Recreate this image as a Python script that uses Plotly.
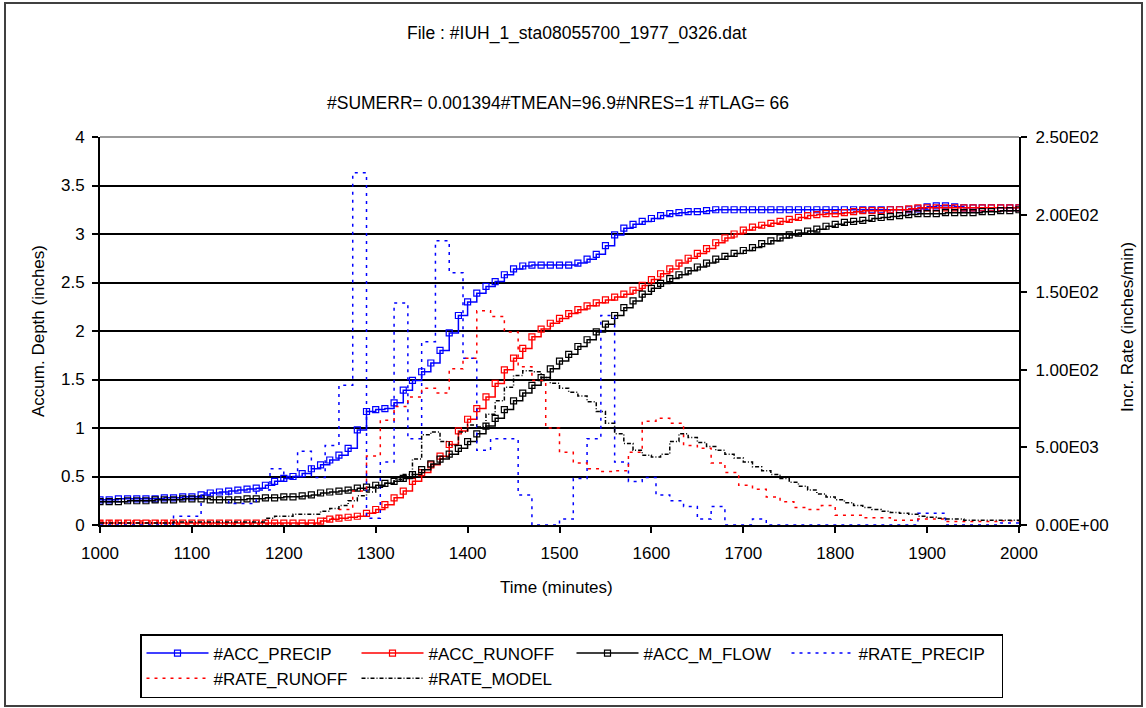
import plotly.graph_objects as go
from plotly.subplots import make_subplots

# ---------------- data ----------------
TIME = list(range(1000, 2001, 10))  # sample times (minutes)

ACC_PRECIP = [
    0.26, 0.26, 0.27, 0.27, 0.27, 0.27, 0.27, 0.28, 0.28, 0.29,
    0.29, 0.31, 0.33, 0.34, 0.35, 0.36, 0.37, 0.38, 0.41, 0.45,
    0.48, 0.50, 0.53, 0.58, 0.62, 0.67, 0.72, 0.79, 0.98, 1.17,
    1.19, 1.20, 1.26, 1.39, 1.49, 1.58, 1.67, 1.80, 1.98, 2.16,
    2.30, 2.39, 2.46, 2.51, 2.58, 2.64, 2.67, 2.68, 2.68, 2.68,
    2.68, 2.68, 2.70, 2.74, 2.79, 2.88, 2.99, 3.06, 3.10, 3.13,
    3.16, 3.19, 3.21, 3.22, 3.23, 3.23, 3.24, 3.25, 3.25, 3.25,
    3.25, 3.25, 3.25, 3.25, 3.25, 3.25, 3.25, 3.25, 3.25, 3.25,
    3.25, 3.25, 3.25, 3.25, 3.25, 3.25, 3.25, 3.25, 3.25, 3.26,
    3.28, 3.29, 3.29, 3.28, 3.27, 3.27, 3.27, 3.27, 3.27, 3.27,
    3.27,
]

ACC_RUNOFF = [
    0.02, 0.02, 0.02, 0.02, 0.02, 0.02, 0.02, 0.02, 0.02, 0.02,
    0.02, 0.02, 0.02, 0.02, 0.02, 0.02, 0.02, 0.02, 0.02, 0.02,
    0.02, 0.02, 0.02, 0.02, 0.04, 0.06, 0.07, 0.08, 0.09, 0.12,
    0.16, 0.21, 0.28, 0.35, 0.45, 0.54, 0.62, 0.71, 0.83, 0.97,
    1.09, 1.20, 1.32, 1.46, 1.60, 1.72, 1.82, 1.94, 2.02, 2.08,
    2.13, 2.18, 2.22, 2.26, 2.29, 2.32, 2.35, 2.38, 2.42, 2.47,
    2.53, 2.59, 2.64, 2.70, 2.75, 2.80, 2.85, 2.91, 2.96, 3.00,
    3.04, 3.07, 3.09, 3.11, 3.13, 3.15, 3.17, 3.19, 3.20, 3.21,
    3.21, 3.22, 3.23, 3.24, 3.24, 3.24, 3.25, 3.25, 3.26, 3.27,
    3.27, 3.27, 3.27, 3.27, 3.27, 3.27, 3.27, 3.27, 3.27, 3.27,
    3.27,
]

ACC_M_FLOW = [
    0.24, 0.24, 0.24, 0.25, 0.25, 0.25, 0.26, 0.26, 0.26, 0.27,
    0.27, 0.27, 0.26, 0.26, 0.26, 0.26, 0.27, 0.27, 0.28, 0.28,
    0.29, 0.29, 0.30, 0.31, 0.33, 0.34, 0.35, 0.36, 0.38, 0.39,
    0.41, 0.43, 0.45, 0.48, 0.52, 0.57, 0.63, 0.68, 0.73, 0.79,
    0.86, 0.94, 1.02, 1.10, 1.19, 1.28, 1.36, 1.44, 1.52, 1.61,
    1.69, 1.76, 1.84, 1.91, 1.99, 2.07, 2.16, 2.24, 2.31, 2.38,
    2.44, 2.49, 2.54, 2.58, 2.62, 2.66, 2.70, 2.74, 2.77, 2.80,
    2.83, 2.86, 2.90, 2.93, 2.96, 2.99, 3.01, 3.03, 3.05, 3.08,
    3.10, 3.12, 3.13, 3.14, 3.16, 3.17, 3.18, 3.19, 3.20, 3.21,
    3.21, 3.21, 3.22, 3.22, 3.22, 3.22, 3.23, 3.23, 3.24, 3.24,
    3.25,
]

RATE_MODEL = [
    0.00013, 0.00013, 0.00013, 0.00013, 0.00013, 0.00013, 0.00013, 0.00013, 0.00019, 0.00019,
    0.00019, 0.00019, 0.00019, 0.00019, 0.00019, 0.00019, 0.00019, 0.00019, 0.00044, 0.00056,
    0.00056, 0.00069, 0.00069, 0.00069, 0.00088, 0.00106, 0.00125, 0.00156, 0.00188, 0.00213,
    0.00244, 0.00269, 0.00294, 0.00325, 0.00425, 0.00581, 0.00600, 0.00538, 0.00513, 0.00600,
    0.00644, 0.00631, 0.00713, 0.00800, 0.00888, 0.00963, 0.00994, 0.00988, 0.00950, 0.00913,
    0.00881, 0.00856, 0.00831, 0.00794, 0.00731, 0.00656, 0.00588, 0.00525, 0.00481, 0.00450,
    0.00438, 0.00456, 0.00538, 0.00588, 0.00563, 0.00531, 0.00506, 0.00481, 0.00456, 0.00431,
    0.00406, 0.00375, 0.00350, 0.00325, 0.00300, 0.00275, 0.00250, 0.00225, 0.00200, 0.00181,
    0.00163, 0.00144, 0.00125, 0.00113, 0.00100, 0.00088, 0.00081, 0.00075, 0.00069, 0.00056,
    0.00050, 0.00044, 0.00038, 0.00038, 0.00031, 0.00031, 0.00031, 0.00031, 0.00031, 0.00031,
    0.00031,
]

PRECIP_T = [1000, 1080, 1110, 1140, 1170, 1185, 1200, 1215, 1230, 1245,
            1260, 1275, 1290, 1305, 1320, 1335, 1350, 1365, 1380, 1395,
            1410, 1425, 1455, 1470, 1500, 1515, 1530, 1545, 1560, 1575,
            1590, 1605, 1620, 1635, 1650, 1665, 1680, 1710, 1725, 1890,
            1920, 1980, 2000]
RATE_PRECIP = [0, 0.00056, 0.00206, 0.00138, 0.00225, 0.00363, 0.00313, 0.00475, 0.00306, 0.00513,
               0.00900, 0.02269, 0.00044, 0.00406, 0.01431, 0.00556, 0.01181, 0.01831, 0.01625, 0.01075,
               0.00481, 0.00556, 0.00194, 0, 0.00038, 0.00300, 0.00556, 0.01350, 0.00406, 0.00281,
               0.00306, 0.00194, 0.00156, 0.00119, 0.00038, 0.00119, 0, 0.00038, 0, 0.00075,
               0, 0.00013, 0.00013]

RUNOFF_T = [1000, 1080, 1240, 1260, 1275, 1290, 1305, 1320, 1335, 1350,
            1365, 1380, 1395, 1410, 1425, 1440, 1455, 1470, 1485, 1500,
            1515, 1530, 1545, 1560, 1575, 1590, 1605, 1620, 1635, 1650,
            1665, 1680, 1695, 1710, 1725, 1740, 1755, 1770, 1785, 1800,
            1830, 1860, 1890, 1920, 1980, 2000]
RATE_RUNOFF = [0.00025, 0.00006, 0.00044, 0.00100, 0.00219, 0.00444, 0.00675, 0.00763, 0.00825, 0.00881,
               0.00850, 0.01006, 0.01075, 0.01381, 0.01344, 0.01244, 0.01019, 0.00931, 0.00625, 0.00469,
               0.00400, 0.00363, 0.00344, 0.00350, 0.00469, 0.00669, 0.00688, 0.00656, 0.00513, 0.00494,
               0.00400, 0.00338, 0.00256, 0.00231, 0.00181, 0.00150, 0.00113, 0.00100, 0.00125, 0.00063,
               0.00047, 0.00031, 0.00038, 0.00022, 0.00028, 0.00028]

LEFT_TICKS = [0, 0.5, 1, 1.5, 2, 2.5, 3, 3.5, 4]
LEFT_TICK_TEXT = ["0", "0.5", "1", "1.5", "2", "2.5", "3", "3.5", "4"]
RIGHT_TICKS = [0, 0.005, 0.01, 0.015, 0.02, 0.025]
RIGHT_TICK_TEXT = ["0.00E+00", "5.00E03", "1.00E02", "1.50E02", "2.00E02", "2.50E02"]
X_TICKS = [1000, 1100, 1200, 1300, 1400, 1500, 1600, 1700, 1800, 1900, 2000]

TITLE_1 = "File : #IUH_1_sta08055700_1977_0326.dat"
TITLE_2 = "#SUMERR= 0.001394#TMEAN=96.9#NRES=1 #TLAG= 66"

# ---------------- figure ----------------
FONT = "Liberation Sans, Arial, sans-serif"
W, H = 1146, 708
ML, MR, MT, MB = 100, 127, 137, 183
PW, PH = W - ML - MR, H - MT - MB


def px_x(p):
    return (p - ML) / PW


def px_y(p):
    return (H - MB - p) / PH


fig = make_subplots(specs=[[{"secondary_y": True}]])

acc_marker = dict(symbol="square-open", size=6, line=dict(width=1.2))
fig.add_trace(go.Scatter(x=TIME, y=ACC_PRECIP, name="#ACC_PRECIP", mode="lines+markers",
                         line=dict(color="#0000FF", width=1.5, shape="hv"), marker=acc_marker),
              secondary_y=False)
fig.add_trace(go.Scatter(x=TIME, y=ACC_RUNOFF, name="#ACC_RUNOFF", mode="lines+markers",
                         line=dict(color="#FF0000", width=1.5, shape="hv"), marker=acc_marker),
              secondary_y=False)
fig.add_trace(go.Scatter(x=TIME, y=ACC_M_FLOW, name="#ACC_M_FLOW", mode="lines+markers",
                         line=dict(color="#000000", width=1.5, shape="hv"), marker=acc_marker),
              secondary_y=False)

fig.add_trace(go.Scatter(x=PRECIP_T, y=RATE_PRECIP, name="#RATE_PRECIP", mode="lines",
                         line=dict(color="#0000FF", width=1.5, dash="3px,5px", shape="hv")),
              secondary_y=True)
fig.add_trace(go.Scatter(x=RUNOFF_T, y=RATE_RUNOFF, name="#RATE_RUNOFF", mode="lines",
                         line=dict(color="#FF0000", width=1.5, dash="3px,5px", shape="hv")),
              secondary_y=True)
fig.add_trace(go.Scatter(x=TIME, y=RATE_MODEL, name="#RATE_MODEL", mode="lines",
                         line=dict(color="#000000", width=1.5, dash="4px,2px,1px,2px", shape="hv")),
              secondary_y=True)

axis_font = dict(family=FONT, size=17, color="black")

fig.update_xaxes(domain=[0, 1], range=[1000, 2000], tickvals=X_TICKS, ticks="outside", ticklen=6,
                 tickwidth=1.5, tickcolor="black", showline=True, linecolor="black",
                 linewidth=2, showgrid=False, zeroline=False, tickfont=axis_font,
                 ticklabelstandoff=6)
fig.update_yaxes(range=[0, 4], tickvals=LEFT_TICKS, ticktext=LEFT_TICK_TEXT,
                 ticks="outside", ticklen=6, tickwidth=1.5, tickcolor="black",
                 showline=True, linecolor="black", linewidth=2, showgrid=True,
                 gridcolor="black", gridwidth=1.5, zeroline=False, tickfont=axis_font,
                 ticklabelstandoff=4, secondary_y=False)
fig.update_yaxes(range=[0, 0.025], tickvals=RIGHT_TICKS, ticktext=RIGHT_TICK_TEXT,
                 ticks="outside", ticklen=6, tickwidth=1.5, tickcolor="black",
                 showline=True, linecolor="black", linewidth=2, showgrid=False,
                 zeroline=False, tickfont=axis_font, ticklabelstandoff=5,
                 secondary_y=True)

ann_font = dict(family=FONT, size=17.5, color="black")
fig.update_layout(
    width=W, height=H,
    margin=dict(l=ML, r=MR, t=MT, b=MB, autoexpand=False),
    paper_bgcolor="white", plot_bgcolor="white",
    font=dict(family=FONT, size=17, color="black"),
    showlegend=True,
    legend=dict(orientation="h", x=px_x(140), y=px_y(634), xanchor="left", yanchor="top",
                bordercolor="black", borderwidth=1.5, bgcolor="white",
                font=dict(family=FONT, size=17, color="black"),
                itemwidth=62, entrywidth=138, entrywidthmode="pixels",
                traceorder="normal"),
    annotations=[
        dict(text=TITLE_1, x=px_x(577), y=px_y(33), xref="paper", yref="paper",
             showarrow=False, font=ann_font, xanchor="center", yanchor="middle"),
        dict(text=TITLE_2, x=px_x(558), y=px_y(103), xref="paper", yref="paper",
             showarrow=False, font=ann_font, xanchor="center", yanchor="middle"),
        dict(text="Time (minutes)", x=px_x(556), y=px_y(587), xref="paper", yref="paper",
             showarrow=False, font=axis_font, xanchor="center", yanchor="middle"),
        dict(text="Accum. Depth (inches)", x=px_x(38), y=px_y(331), xref="paper", yref="paper",
             showarrow=False, font=axis_font, xanchor="center", yanchor="middle", textangle=-90),
        dict(text="Incr. Rate (inches/min)", x=px_x(1127), y=px_y(327), xref="paper", yref="paper",
             showarrow=False, font=axis_font, xanchor="center", yanchor="middle", textangle=-90),
    ],
    shapes=[
        dict(type="line", xref="paper", yref="paper", x0=0, x1=1, y0=1, y1=1,
             line=dict(color="#9a9a9a", width=2), layer="above"),
        dict(type="rect", xref="paper", yref="paper",
             x0=px_x(5), x1=px_x(1142), y0=px_y(3), y1=px_y(706),
             line=dict(color="#404040", width=2), layer="below"),
    ],
)

fig.write_html("out.html")
